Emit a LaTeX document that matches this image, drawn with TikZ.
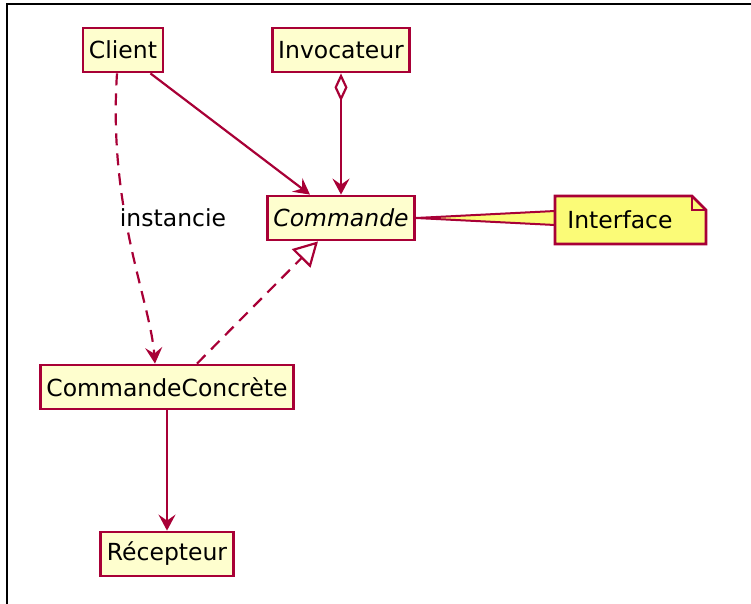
\documentclass[tikz,border=0pt]{standalone}
\usepackage{fontspec}
\setmainfont{DejaVu Sans}
\usetikzlibrary{arrows.meta}
\definecolor{umlred}{HTML}{A80036}
\definecolor{umlfill}{HTML}{FEFECE}
\definecolor{notefill}{HTML}{FBFB77}
\tikzset{
  umlfont/.style={font=\fontsize{23.5}{26}\selectfont},
  classbox/.style={draw=umlred, fill=umlfill, line width=2.8pt, minimum height=44pt,
    inner xsep=6pt, umlfont},
  link/.style={draw=umlred, line width=2.2pt},
  dep/.style={link, dash pattern=on 12pt off 8pt},
  tip/.style={-{Stealth[length=16pt,width=17pt,inset=6pt]}}
}

\begin{document}
\begin{tikzpicture}[x=1pt,y=-1pt]
		%%%%% START %%%%%
		
		\useasboundingbox (0,0) rectangle (751,604);
		\draw[line width=2pt] (7,604) -- (7,4) -- (751,4);
		
		\node[classbox] (client) at (123,50) {Client};
		\node[classbox] (invoc) at (341,50) {Invocateur};
		\node[classbox] (cmd) at (341,218) {\itshape Commande};
		\node[classbox] (concrete) at (167,387) {CommandeConcrète};
		\node[classbox] (recv) at (167,554) {Récepteur};
		
		% note
		\coordinate (nt) at (555,211);
		\coordinate (nb) at (555,225);
		\draw[umlred, fill=notefill, line width=2pt] (cmd.east) -- (nt) -- (nb) -- cycle;
		\draw[umlred, fill=notefill, line width=2.8pt] (555,196) -- (692,196) -- (706,210) -- (706,244) -- (555,244) -- cycle;
		\draw[umlred, line width=2pt] (692,196) -- (692,210) -- (706,210);
		\node[umlfont] (iface) at (620,220) {Interface};
		
		\draw[link, tip] ([xshift=-14pt]client.south east) -- ([xshift=44pt]cmd.north west);
		\draw[link, {Diamond[open,fill=white,length=28pt,width=13pt]}-{Stealth[length=16pt,width=17pt,inset=6pt]}] (invoc.south) -- (cmd.north);
		
		\draw[dep, tip] ([xshift=-6pt]client.south) .. controls (108,210) and (150,300) .. ([xshift=-12pt]concrete.north);
		\node[fill=white, inner sep=1pt, umlfont] (inst) at (173,218) {instancie};
		
		\draw[dep, -{Triangle[open,fill=white,length=24pt,width=26pt]}] ([xshift=30pt]concrete.north) -- ([xshift=-23pt]cmd.south);
		
		\draw[link, tip] (concrete.south) -- (recv.north);
		
		%%%%% END %%%%%
	\end{tikzpicture}
\end{document}
